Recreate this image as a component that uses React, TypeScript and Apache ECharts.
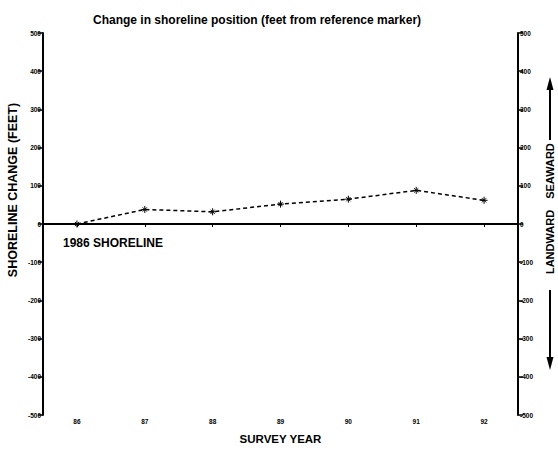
import React, { useEffect, useRef } from "react";
import * as echarts from "echarts";

const years = ["86", "87", "88", "89", "90", "91", "92"];
const shorelineChange = [0, 38, 32, 52, 65, 88, 62];
const yTicksMin = -500;
const yTicksMax = 500;
const yInterval = 100;

const FONT = "'Liberation Sans', Arial, sans-serif";

export default function App() {
  const ref = useRef<HTMLDivElement>(null);
  useEffect(() => {
    if (!ref.current) return;
    const chart = echarts.init(ref.current, null, { renderer: "svg" });
    const yAxisBase = {
      type: "value" as const,
      min: yTicksMin,
      max: yTicksMax,
      interval: yInterval,
      axisLine: { show: true, lineStyle: { color: "#000", width: 2 } },
      axisTick: { show: true, length: 5, lineStyle: { color: "#000", width: 1.5 } },
      axisLabel: { fontSize: 6.5, fontWeight: "bold", color: "#000", margin: 2, fontFamily: FONT },
      splitLine: { show: false },
    };
    const bold = (size: number) => ({
      fontSize: size,
      fontWeight: "bold",
      fill: "#000",
      fontFamily: FONT,
      align: "center",
      verticalAlign: "middle",
    });
    chart.setOption({
      animation: false,
      backgroundColor: "#fff",
      title: {
        text: "Change in shoreline position (feet from reference marker)",
        left: 252,
        top: 9,
        textAlign: "center",
        textStyle: { fontSize: 12, fontWeight: "bold", color: "#000", fontFamily: FONT },
      },
      grid: { left: 43, right: 40, top: 33, bottom: 32 },
      xAxis: [
        {
          type: "category",
          data: years,
          position: "bottom",
          boundaryGap: true,
          axisLine: { show: true, lineStyle: { color: "#000", width: 2 } },
          axisTick: { show: true, alignWithLabel: true, length: 3, lineStyle: { color: "#000" } },
          axisLabel: { fontSize: 6.5, fontWeight: "bold", color: "#000", margin: 3, fontFamily: FONT },
          name: "SURVEY YEAR",
          nameLocation: "middle",
          nameGap: 18,
          nameTextStyle: { fontSize: 11.5, fontWeight: "bold", color: "#000", fontFamily: FONT },
        },
        {
          type: "category",
          data: years,
          position: "top",
          axisLine: { show: true, lineStyle: { color: "#000", width: 2 } },
          axisTick: { show: false },
          axisLabel: { show: false },
        },
      ],
      yAxis: [
        { ...yAxisBase, position: "left" },
        { ...yAxisBase, position: "right" },
      ],
      series: [
        {
          type: "line",
          data: shorelineChange,
          xAxisIndex: 0,
          yAxisIndex: 0,
          lineStyle: { color: "#000", width: 1.5, type: [4, 3] },
          symbol: "path://M0,5L10,5M5,0L5,10M2,2L8,8M8,2L2,8",
          symbolSize: 7,
          itemStyle: { color: "#000", borderColor: "#000", borderWidth: 1 },
          markLine: {
            silent: true,
            symbol: "none",
            label: { show: false },
            lineStyle: { color: "#000", width: 2, type: "solid" },
            data: [{ yAxis: 0 }],
          },
        },
      ],
      graphic: [
        {
          type: "text",
          x: 13,
          y: 190,
          rotation: Math.PI / 2,
          style: { text: "SHORELINE CHANGE (FEET)", ...bold(12.5) },
        },
        {
          type: "text",
          x: 63,
          y: 243,
          style: { text: "1986 SHORELINE", ...bold(12), align: "left" },
        },
        {
          type: "text",
          x: 550,
          y: 171,
          rotation: Math.PI / 2,
          style: { text: "SEAWARD", ...bold(11) },
        },
        {
          type: "text",
          x: 550,
          y: 242,
          rotation: Math.PI / 2,
          style: { text: "LANDWARD", ...bold(11) },
        },
        {
          type: "line",
          shape: { x1: 550, y1: 88, x2: 550, y2: 140 },
          style: { stroke: "#000", lineWidth: 2 },
        },
        {
          type: "polygon",
          shape: { points: [[550, 77], [546.5, 90], [553.5, 90]] },
          style: { fill: "#000" },
        },
        {
          type: "line",
          shape: { x1: 550, y1: 290, x2: 550, y2: 358 },
          style: { stroke: "#000", lineWidth: 2 },
        },
        {
          type: "polygon",
          shape: { points: [[550, 370], [546.5, 357], [553.5, 357]] },
          style: { fill: "#000" },
        },
      ],
    });
    return () => chart.dispose();
  }, []);
  return (
    <div
      ref={ref}
      style={{ position: "fixed", left: 0, top: 0, width: 558, height: 450 }}
    />
  );
}
